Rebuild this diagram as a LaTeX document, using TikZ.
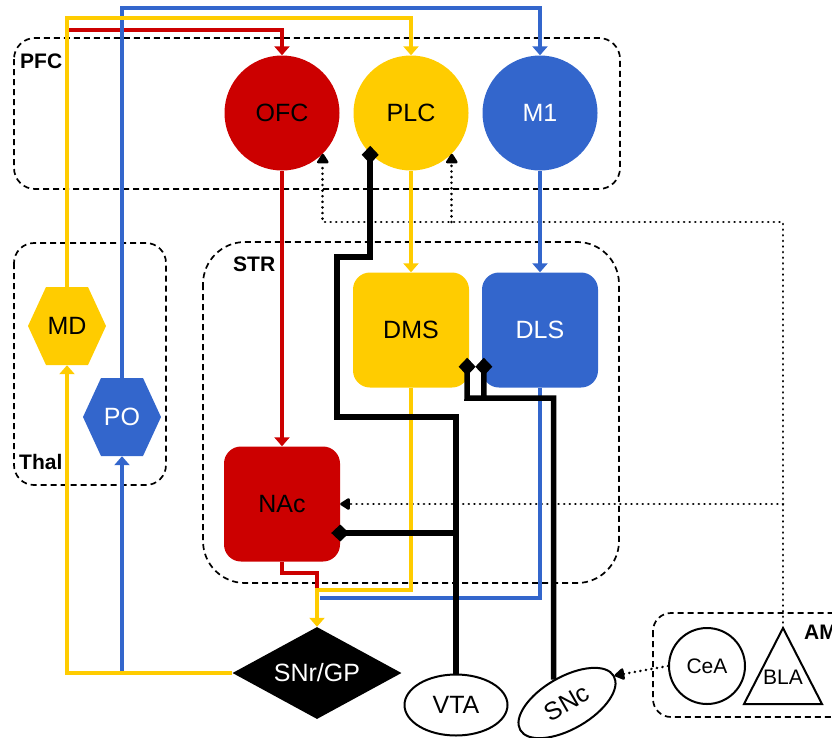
\documentclass[tikz,border=0pt]{standalone}
\usepackage{fontspec}
\setmainfont{Liberation Sans}
\usetikzlibrary{arrows.meta,shapes.geometric}
\definecolor{cRed}{HTML}{CC0000}
\definecolor{cYel}{HTML}{FFCC00}
\definecolor{cBlu}{HTML}{3366CC}
\begin{document}
\begin{tikzpicture}[x=1pt,y=-1pt,
  region/.style={draw=black, line width=1.7pt, dash pattern=on 6pt off 4pt},
  regionlabel/.style={font=\fontsize{21}{24}\selectfont\bfseries, inner sep=0pt, anchor=west},
  big/.style={font=\fontsize{25}{30}\selectfont, inner sep=0pt},
  small/.style={font=\fontsize{21}{25}\selectfont, inner sep=0pt},
  cortex/.style={big, circle, minimum size=115pt},
  striatum/.style={big, rectangle, rounded corners=17pt, minimum width=116pt, minimum height=115pt},
  hexlabel/.style={big, rectangle, minimum width=78pt, minimum height=78pt},
  projline/.style={line width=3.6pt},
  proj/.style={projline, -{Triangle[width=15pt,length=9pt]}},
  dopaline/.style={line width=5.5pt},
  dopa/.style={dopaline, -{Diamond[width=17pt,length=18pt]}},
  amyg/.style={line width=2.8pt, line cap=round, dash pattern=on 0.01pt off 5.6pt, -{Triangle[width=13pt,length=11pt,round=false]}},
  ring/.style={draw=black, line width=2pt},
]
\useasboundingbox (0,0) rectangle (832,737);

% dashed region outlines
\draw[region, rounded corners=21pt] (14,38) rectangle (620,189);
\draw[region, rounded corners=20pt] (14,243) rectangle (166,485);
\draw[region, rounded corners=42pt] (203,242) rectangle (619,583);
\draw[region, rounded corners=18pt] (653,613) rectangle (850,717);
\node[regionlabel] (pfcL) at (20,61) {PFC};
\node[regionlabel] (thalL) at (19,462) {Thal};
\node[regionlabel] (strL) at (233,264) {STR};
\node[regionlabel] (amyL) at (804,632) {AMY};

% cortex
\node[cortex, fill=cRed, text=black] (OFC) at (282,113) {OFC};
\node[cortex, fill=cYel, text=black] (PLC) at (411,113) {PLC};
\node[cortex, fill=cBlu, text=white] (M1) at (540,113) {M1};

% thalamus hexagons
\fill[cYel, shift={(67,326)}] (-39,0) -- (-21,-39) -- (21,-39) -- (39,0) -- (21,39) -- (-21,39) -- cycle;
\fill[cBlu, shift={(122,417)}] (-39,0) -- (-21,-39) -- (21,-39) -- (39,0) -- (21,39) -- (-21,39) -- cycle;
\node[hexlabel, text=black] (MD) at (67,326) {MD};
\node[hexlabel, text=white] (PO) at (122,417) {PO};

% striatum
\node[striatum, fill=cYel, text=black] (DMS) at (411,330) {DMS};
\node[striatum, fill=cBlu, text=white] (DLS) at (540,330) {DLS};
\node[striatum, fill=cRed, text=black] (NAc) at (282,504) {NAc};

% output nuclei and dopamine sources
\node[diamond, fill=black, text=white, big, aspect=1.84, minimum width=169pt, minimum height=92pt] (SNr) at (317,673) {SNr/GP};
\node[ellipse, ring, big, minimum width=103pt, minimum height=61pt] (VTA) at (456,705) {VTA};
\node[ellipse, ring, big, minimum width=108pt, minimum height=52pt, rotate=30] (SNc) at (567,703) {SNc};

% amygdala
\node[circle, ring, small, minimum size=76pt] (CeA) at (707,666) {CeA};
\draw[ring, line join=miter] (783,628) -- (822,704) -- (744,704) -- cycle;
\coordinate (BLAtop) at (783,628);
\node[small] (BLA) at (783,677) {BLA};

% amygdala projections
\draw[amyg] (BLAtop) -- (BLAtop |- 0,222) -| (OFC.south east);
\draw[amyg] (PLC.south east |- 0,222) -- (PLC.south east);
\draw[amyg] (BLAtop |- NAc.east) -- (NAc.east);
\draw[amyg] (CeA.west) -- (SNc.east);

% red pathway
\draw[proj, cRed] (MD.north) -- (MD.north |- 0,30) -| (OFC.north);
\draw[proj, cRed] (OFC.south) -- (NAc.north);
\draw[projline, cRed] (NAc.south) -- (NAc.south |- 0,573) -- (317,573) -- (317,591);

% blue pathway
\draw[proj, cBlu] (PO.north) -- (PO.north |- 0,8) -| (M1.north);
\draw[proj, cBlu] (M1.south) -- (DLS.north);
\draw[projline, cBlu] (DLS.south) -- (DLS.south |- 0,598) -- (320,598);
\draw[proj, cBlu] (SNr.west -| PO.south) -- (PO.south);

% yellow pathway
\draw[proj, cYel] (MD.north) -- (MD.north |- 0,18) -| (PLC.north);
\draw[proj, cYel] (PLC.south) -- (DMS.north);
\draw[proj, cYel] (DMS.south) -- (DMS.south |- 0,590) -- (SNr.north |- 0,590) -- (SNr.north);
\draw[proj, cYel] (SNr.west) -| (MD.south);

% dopaminergic projections
\draw[dopa, shorten >=-8pt] (VTA.north) -- (VTA.north |- 0,417) -- (337,417) -- (337,257) -- (PLC.south west |- 0,257) -- (PLC.south west);
\draw[dopa, shorten >=-9pt] (VTA.north |- 0,533) -- (NAc.east |- 0,533);
\coordinate (snSplit) at (484,398);
\draw[dopa] (SNc.north) -- (SNc.north |- snSplit) -- (snSplit) -- ([xshift=2pt,yshift=30pt]DLS.south west);
\draw[dopa] (snSplit) -- (467,398) -- ([xshift=-2pt,yshift=30pt]DMS.south east);
\end{tikzpicture}
\end{document}
